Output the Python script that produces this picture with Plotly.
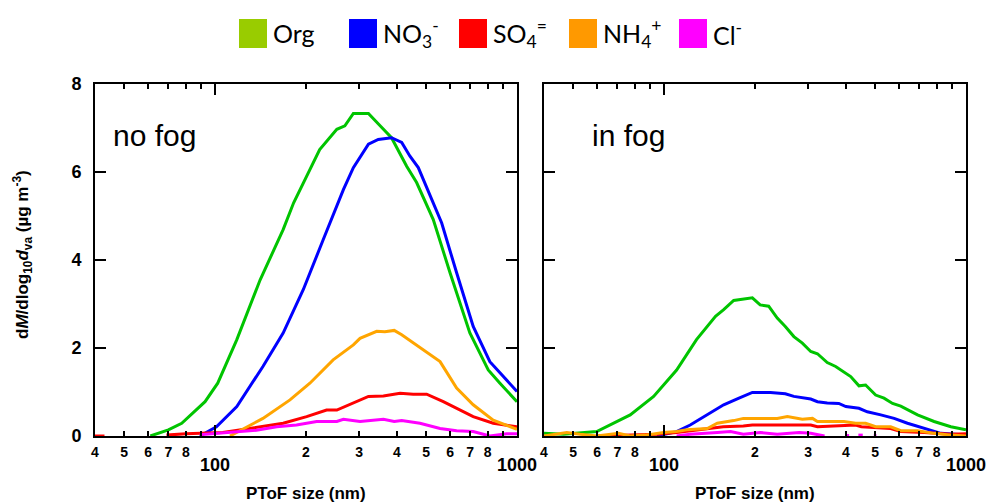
import numpy as np
import plotly.graph_objects as go

# ---------------- data ----------------
species = ["Org", "NO3", "SO4", "NH4", "Cl"]
legend_labels = ["Org", "NO<sub>3</sub><sup>-</sup>", "SO<sub>4</sub><sup>=</sup>",
                 "NH<sub>4</sub><sup>+</sup>", "Cl<sup>-</sup>"]
line_colors = ["#00C400", "#0000FF", "#FF0000", "#FFA500", "#FF00FF"]
legend_colors = ["#99CC00", "#0000FF", "#FF0000", "#FF9900", "#FF00FF"]

# no fog (left panel)
org_nf_x = [61, 70, 77.5, 92.6, 102, 118, 141, 168, 182, 206, 222, 253, 269, 287, 322, 352, 384, 431, 465, 528, 600, 698, 803, 878, 1000]
org_nf_y = [0, 0.14, 0.29, 0.78, 1.2, 2.19, 3.55, 4.69, 5.3, 6.06, 6.51, 6.97, 7.05, 7.33, 7.33, 7.05, 6.78, 6.13, 5.76, 4.92, 3.71, 2.34, 1.5, 1.2, 0.78]
no3_nf_x = [89, 101, 118, 144, 168, 196, 228, 266, 287, 322, 347, 384, 415, 442, 471, 563, 631, 716, 813, 878, 1000]
no3_nf_y = [0, 0.21, 0.67, 1.58, 2.34, 3.33, 4.46, 5.6, 6.1, 6.63, 6.74, 6.78, 6.67, 6.36, 6.1, 4.84, 3.71, 2.49, 1.69, 1.43, 1.01]
so4_nf_x = [40, 43, None, 69, 80, 106, 121, 168, 201, 234, 253, 287, 322, 361, 410, 453, 502, 570, 631, 716, 834, 1000]
so4_nf_y = [0, 0, None, 0.02, 0.05, 0.08, 0.14, 0.29, 0.44, 0.59, 0.59, 0.76, 0.9, 0.91, 0.97, 0.95, 0.95, 0.78, 0.63, 0.44, 0.29, 0.21]
nh4_nf_x = [112, 144, 177, 206, 246, 287, 302, 343, 365, 392, 415, 465, 556, 631, 716, 834, 1000]
nh4_nf_y = [0, 0.4, 0.82, 1.2, 1.73, 2.07, 2.22, 2.38, 2.37, 2.4, 2.3, 2.07, 1.69, 1.09, 0.71, 0.36, 0.15]
cl_nf_x = [89, 118, 137, 160, 186, 217, 253, 266, 302, 361, 392, 415, 477, 556, 631, 716, 813, 924, 1000]
cl_nf_y = [0.03, 0.1, 0.13, 0.21, 0.25, 0.33, 0.33, 0.38, 0.33, 0.38, 0.33, 0.35, 0.29, 0.17, 0.12, 0.1, 0.0, 0.05, 0.05]

# in fog (right panel)
org_f_x = [40, 46.4, 59.8, 77.2, 92.3, 110, 128, 148, 157.5, 170, 196, 208, 222, 237, 252, 269, 287, 306, 322, 347, 370, 415, 442, 465, 502, 535, 571, 608, 691, 784, 891, 1000]
org_f_y = [0.06, 0.04, 0.1, 0.48, 0.9, 1.5, 2.19, 2.72, 2.87, 3.08, 3.14, 2.98, 2.95, 2.68, 2.49, 2.26, 2.11, 1.92, 1.87, 1.67, 1.58, 1.35, 1.14, 1.16, 0.93, 0.86, 0.74, 0.68, 0.48, 0.33, 0.21, 0.14]
no3_f_x = [94.7, 110, 122, 139, 157.5, 177, 196, 225, 252, 269, 306, 322, 347, 379, 400, 442, 471, 522, 578, 640, 727, 826, 1000]
no3_f_y = [0, 0.1, 0.25, 0.48, 0.71, 0.86, 0.99, 0.99, 0.96, 0.9, 0.84, 0.78, 0.75, 0.74, 0.67, 0.63, 0.55, 0.48, 0.4, 0.29, 0.17, 0.06, 0.02]
so4_f_x = [60, 80, 94.7, 110, 122, 139, 157, 183, 196, 306, 322, 431, 450, 563, 608, 727, 891, 1000]
so4_f_y = [0.0, 0.02, 0.04, 0.08, 0.12, 0.17, 0.21, 0.23, 0.25, 0.25, 0.21, 0.25, 0.21, 0.17, 0.1, 0.08, 0.04, 0.05]
nh4_f_x = [40, 47.6, 52.7, 59.8, 70.6, 77.2, 86.5, 99.6, 110, 119, 139, 150, 170, 183, 203, 237, 256, 287, 310, 322, 394, 431, 465, 502, 563, 608, 691, 784, 891, 1000]
nh4_f_y = [0, 0.08, 0.04, 0, 0.06, 0, 0.02, 0.08, 0.1, 0.14, 0.17, 0.29, 0.35, 0.4, 0.4, 0.4, 0.44, 0.38, 0.4, 0.33, 0.33, 0.29, 0.29, 0.21, 0.21, 0.12, 0.12, 0.06, 0.02, 0]
cl_f_x = [110, 122, 150, 166, 183, 208, 237, 280, 306, 340, None, 400, 410, None, 440, 455, None, 495, 505]
cl_f_y = [0, 0.04, 0.08, 0.1, 0.04, 0.08, 0.04, 0.08, 0.06, 0, None, 0.01, 0.01, None, 0.02, 0.02, None, 0.01, 0.01]

panels = {
    "no fog": [(org_nf_x, org_nf_y), (no3_nf_x, no3_nf_y), (so4_nf_x, so4_nf_y),
               (nh4_nf_x, nh4_nf_y), (cl_nf_x, cl_nf_y)],
    "in fog": [(org_f_x, org_f_y), (no3_f_x, no3_f_y), (so4_f_x, so4_f_y),
               (nh4_f_x, nh4_f_y), (cl_f_x, cl_f_y)],
}

x_tick_vals = [40, 50, 60, 70, 80, 90, 200, 300, 400, 500, 600, 700, 800, 900]
x_tick_text = ["4", "5", "6", "7", "8", "", "2", "3", "4", "5", "6", "7", "8", ""]
x_major_vals = [100, 1000]
x_major_text = ["100", "1000"]
y_tick_vals = [0, 2, 4, 6, 8]

# ---------------- layout helpers ----------------
W, H = 993, 503
def fx(p): return p / W
def fy(p): return 1 - p / H

AX_FONT = "Liberation Sans"
fig = go.Figure()

axis_ids = [("x", "y"), ("x2", "y2")]
for (name, series), (xa, ya) in zip(panels.items(), axis_ids):
    for (xs, ys), col in zip(series, line_colors):
        fig.add_trace(go.Scatter(x=xs, y=ys, mode="lines", xaxis=xa, yaxis=ya,
                                 line=dict(color=col, width=3), showlegend=False,
                                 hoverinfo="skip"))

xdoms = [[fx(95), fx(517)], [fx(544), fx(966)]]
ydom = [fy(436), fy(84)]

def xaxis_cfg(dom, anchor):
    return dict(type="log", range=[np.log10(40), 3], domain=dom, anchor=anchor,
                showline=True, linecolor="black", linewidth=2, mirror="ticks",
                ticks="inside", ticklen=5, tickwidth=1.5, tickcolor="black",
                tickmode="array", tickvals=x_tick_vals, ticktext=x_tick_text,
                tickfont=dict(family=AX_FONT, size=14, color="black", weight="bold"),
                ticklabelstandoff=2,
                minor=dict(tickmode="array", tickvals=[100], ticks="inside", ticklen=11,
                           tickwidth=1.5, tickcolor="black", showgrid=False),
                showgrid=False, zeroline=False, automargin=False)

def yaxis_cfg(anchor, labels):
    return dict(range=[0, 8], domain=ydom, anchor=anchor,
                showline=True, linecolor="black", linewidth=2, mirror="ticks",
                ticks="inside", ticklen=11, tickwidth=1.5, tickcolor="black",
                tickmode="array", tickvals=y_tick_vals, showticklabels=labels,
                tickfont=dict(family=AX_FONT, size=18, color="black", weight="bold"),
                ticklabelstandoff=8,
                showgrid=False, zeroline=False, automargin=False)

fig.update_layout(
    width=W, height=H, margin=dict(l=0, r=0, t=0, b=0),
    paper_bgcolor="white", plot_bgcolor="white", showlegend=False,
    xaxis=xaxis_cfg(xdoms[0], "y"), yaxis=yaxis_cfg("x", True),
    xaxis2=xaxis_cfg(xdoms[1], "y2"), yaxis2=yaxis_cfg("x2", False),
)

annotations = []
shapes = []
# major x labels (100, 1000) on a lower row, x titles, panel labels
for i, (name, xa) in enumerate(zip(panels.keys(), ["x", "x2"])):
    for v, t in zip(x_major_vals, x_major_text):
        annotations.append(dict(x=np.log10(v), xref=xa, y=fy(465), yref="paper",
                                text=t, showarrow=False, xanchor="center", yanchor="middle",
                                font=dict(family=AX_FONT, size=18, color="black", weight="bold")))
    annotations.append(dict(x=(xdoms[i][0] + xdoms[i][1]) / 2, xref="paper", y=fy(493),
                            yref="paper", text="PToF size (nm)", showarrow=False,
                            xanchor="center", yanchor="middle",
                            font=dict(family=AX_FONT, size=17, color="black", weight="bold")))
    annotations.append(dict(x=xdoms[i][0] + fx(16 if i == 0 else 46), xref="paper",
                            y=fy(135), yref="paper", text=name, showarrow=False,
                            xanchor="left", yanchor="middle",
                            font=dict(family=AX_FONT, size=30, color="black")))

# y title
annotations.append(dict(x=fx(22), xref="paper", y=fy(255), yref="paper",
                        text="d<i>M</i>/dlog<sub>10</sub><i>d</i><sub>va</sub> (µg m<sup>-3</sup>)",
                        textangle=-90, showarrow=False, xanchor="center", yanchor="middle",
                        font=dict(family=AX_FONT, size=17, color="black", weight="bold")))

# legend (square swatches + labels)
LEG_FONT = "Lato"
for i, (lab, col) in enumerate(zip(legend_labels, legend_colors)):
    x0 = 239 + 110 * i
    shapes.append(dict(type="rect", xref="paper", yref="paper",
                       x0=fx(x0), x1=fx(x0 + 28), y0=fy(48), y1=fy(19),
                       fillcolor=col, line=dict(width=0)))
    annotations.append(dict(x=fx(x0 + 32), xref="paper", y=fy(33), yref="paper",
                            text=lab, showarrow=False, xanchor="left", yanchor="middle",
                            font=dict(family=LEG_FONT, size=25, color="black")))

fig.update_layout(annotations=annotations, shapes=shapes)
fig.write_html("out.html")
